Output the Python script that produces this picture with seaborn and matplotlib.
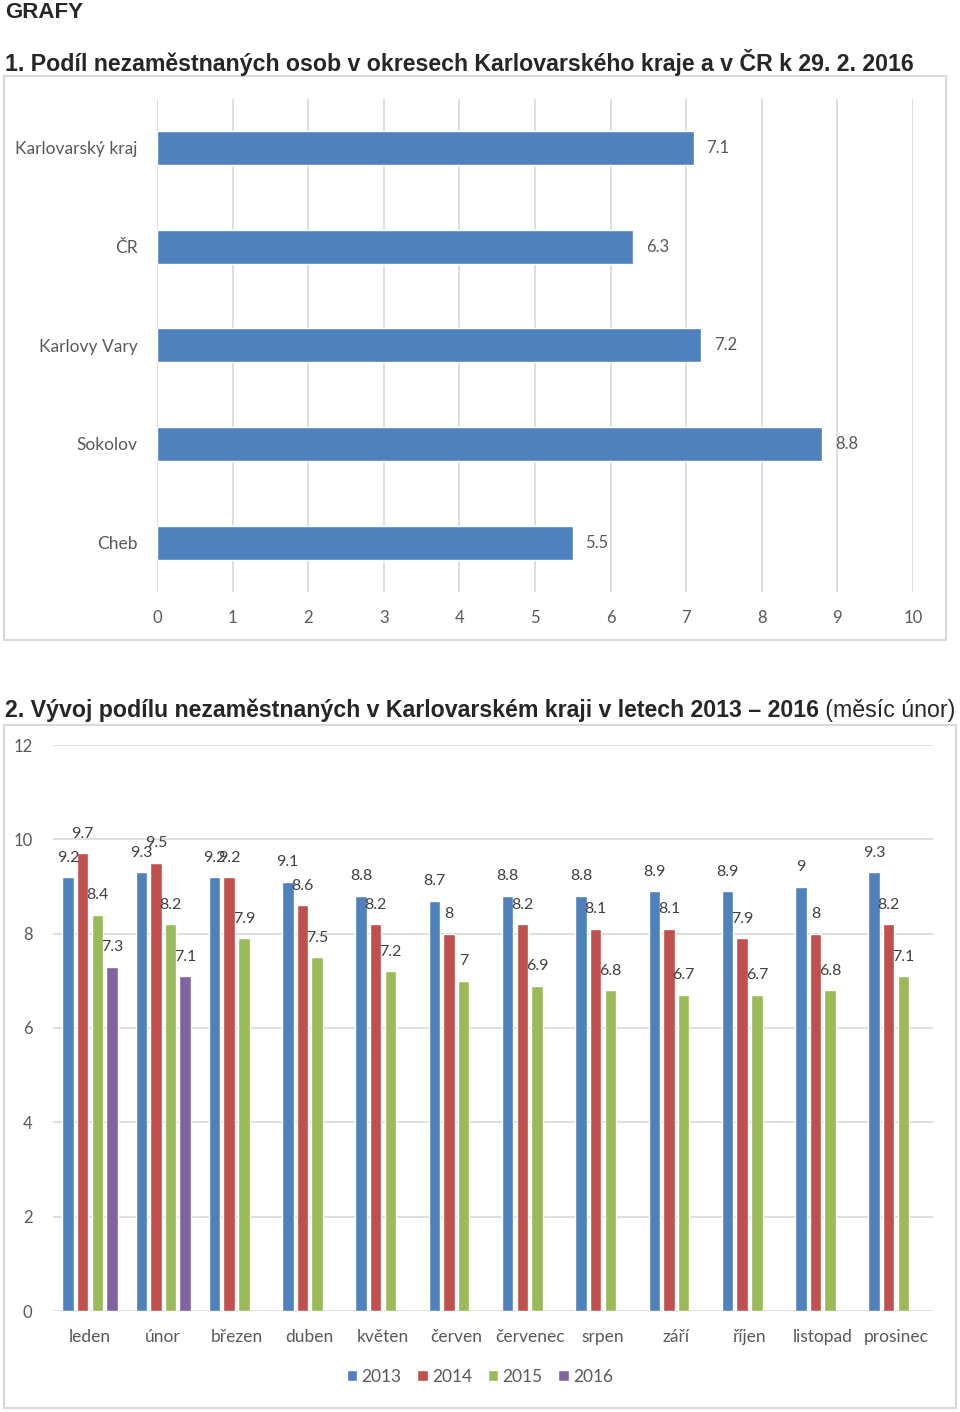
"""Unemployment share charts for Karlovarský kraj (February 2016 report)."""

import matplotlib.pyplot as plt
import pandas as pd
import seaborn as sns
from matplotlib.patches import Rectangle

# chart 1: share of unemployed by district, 29. 2. 2016
districts = ["Karlovarský kraj", "ČR", "Karlovy Vary", "Sokolov", "Cheb"]
district_share = [7.1, 6.3, 7.2, 8.8, 5.5]

# chart 2: monthly development 2013-2016
months = ["leden", "únor", "březen", "duben", "květen", "červen",
          "červenec", "srpen", "září", "říjen", "listopad", "prosinec"]
years = ["2013", "2014", "2015", "2016"]
share_2013 = [9.2, 9.3, 9.2, 9.1, 8.8, 8.7, 8.8, 8.8, 8.9, 8.9, 9.0, 9.3]
share_2014 = [9.7, 9.5, 9.2, 8.6, 8.2, 8.0, 8.2, 8.1, 8.1, 7.9, 8.0, 8.2]
share_2015 = [8.4, 8.2, 7.9, 7.5, 7.2, 7.0, 6.9, 6.8, 6.7, 6.7, 6.8, 7.1]
share_2016 = [7.3, 7.1]

colors = ["#4F81BD", "#C0504D", "#9BBB59", "#8064A2"]
TEXT = "#595959"
GRID = "#d9d9d9"

sns.set_theme(style="white")
plt.rcParams["font.family"] = ["Lato", "DejaVu Sans"]

fig = plt.figure(figsize=(9.6, 14.12), dpi=100)

# headings
title_font = ["Liberation Sans", "DejaVu Sans"]
fig.text(0.005, 0.991, "GRAFY", fontsize=16, fontweight="bold",
         family=title_font, va="center")
fig.text(0.005, 0.956,
         "1. Podíl nezaměstnaných osob v okresech Karlovarského kraje a v ČR k 29. 2. 2016",
         fontsize=16.7, fontweight="bold", family=title_font, va="center")
t2 = fig.text(0.005, 0.497,
              "2. Vývoj podílu nezaměstnaných v Karlovarském kraji v letech 2013 – 2016",
              fontsize=16.7, fontweight="bold", family=title_font, va="center")
fig.canvas.draw()
bb = t2.get_window_extent()
fig.text(bb.x1 / fig.bbox.width, 0.497, " (měsíc únor)", fontsize=16.7,
         family=title_font, va="center")

# frames around charts
for x0, y0, x1, y1 in [(4, 76, 946, 640), (4, 725, 956, 1408)]:
    fig.add_artist(Rectangle((x0 / 960, 1 - y1 / 1412), (x1 - x0) / 960,
                             (y1 - y0) / 1412, transform=fig.transFigure,
                             fill=False, edgecolor=GRID, linewidth=1.5))

# ---- chart 1 ----
ax1 = fig.add_axes([157 / 960, 1 - 592 / 1412, 756 / 960, 493.4 / 1412])
df1 = pd.DataFrame({"okres": districts, "podil": district_share})
sns.barplot(data=df1, x="podil", y="okres", color=colors[0], width=0.345,
            saturation=1, ax=ax1, zorder=3)
ax1.set_xlim(0, 10)
ax1.set_ylim(4.5, -0.5)
ax1.set_xticks(range(0, 11))
ax1.grid(axis="x", color=GRID, linewidth=1.2, zorder=0)
ax1.set_axisbelow(True)
for s in ax1.spines.values():
    s.set_visible(False)
ax1.tick_params(axis="x", length=0, pad=13, labelsize=12, labelcolor=TEXT)
ax1.tick_params(axis="y", length=0, pad=14, labelsize=12.5, labelcolor=TEXT)
ax1.set_xlabel("")
ax1.set_ylabel("")
for c in ax1.containers:
    ax1.bar_label(c, fmt="{:g}", padding=9, fontsize=12, color=TEXT)

# ---- chart 2 ----
ax2 = fig.add_axes([53.3 / 960, 1 - 1311 / 1412, 879.4 / 960, 566 / 1412])
series = [share_2013, share_2014, share_2015, share_2016]
rows = []
for yr, vals in zip(years, series):
    for m, v in zip(months, vals):
        rows.append({"mesic": m, "rok": yr, "podil": v})
df2 = pd.DataFrame(rows)
sns.barplot(data=df2, x="mesic", y="podil", hue="rok", order=months,
            hue_order=years, palette=colors, saturation=1, width=0.8,
            gap=0.22, ax=ax2, zorder=3)
ax2.set_ylim(0, 12)
ax2.set_xlim(-0.5, 11.5)
ax2.set_yticks(range(0, 13, 2))
ax2.grid(axis="y", color=GRID, linewidth=1.2, zorder=0)
ax2.set_axisbelow(True)
for s in ax2.spines.values():
    s.set_visible(False)
ax2.tick_params(axis="x", length=0, pad=13, labelsize=12.5, labelcolor=TEXT)
ax2.tick_params(axis="y", length=0, pad=15, labelsize=12, labelcolor=TEXT)
ax2.set_xlabel("")
ax2.set_ylabel("")
for c in ax2.containers:
    ax2.bar_label(c, fmt="{:g}", padding=9, fontsize=11.5, color="#404040")

handles, labels = ax2.get_legend_handles_labels()
ax2.get_legend().remove()
fig.legend(handles, labels, loc="center", bbox_to_anchor=(0.5, 1 - 1377 / 1412),
           ncol=4, frameon=False, handlelength=0.6, handleheight=0.6,
           handletextpad=0.25, columnspacing=0.9, fontsize=12.5,
           labelcolor=TEXT)

fig.savefig("out.png", dpi=100)
